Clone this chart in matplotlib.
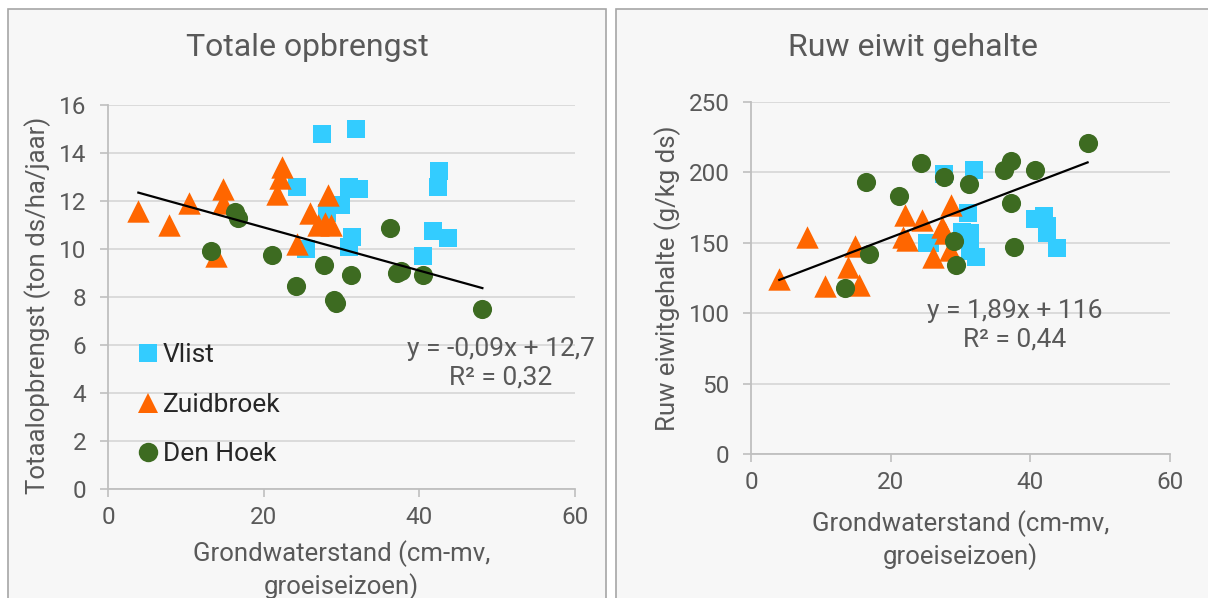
import matplotlib
matplotlib.use("Agg")
import matplotlib.pyplot as plt
import numpy as np
from matplotlib.patches import Rectangle
from matplotlib.lines import Line2D

plt.rcParams['font.family'] = ['Roboto', 'DejaVu Sans']

# ---------------- data ----------------
series_names = ["Vlist", "Zuidbroek", "Den Hoek"]

# Left chart: Totale opbrengst (ton ds/ha/jaar)
vlist_x1 = [27.5, 31.9, 24.3, 30.9, 32.2, 42.5, 42.4, 29.9, 28.1, 31.3, 30.9, 41.8, 43.7, 40.5, 25.4]
vlist_y1 = [14.8, 15.0, 12.6, 12.6, 12.5, 13.25, 12.6, 11.85, 11.5, 10.5, 10.1, 10.75, 10.45, 9.7, 10.0]
zuid_x1 = [3.9, 7.9, 10.4, 14.8, 14.8, 13.9, 22.3, 22.1, 21.7, 24.3, 28.3, 26.0, 27.0, 27.9, 28.7]
zuid_y1 = [11.6, 11.0, 11.9, 12.5, 11.9, 9.7, 13.4, 12.95, 12.3, 10.2, 12.25, 11.5, 11.0, 11.1, 11.0]
hoek_x1 = [16.3, 16.75, 13.2, 21.1, 27.7, 24.2, 29.1, 29.3, 31.2, 36.2, 37.1, 37.7, 40.5, 48.1]
hoek_y1 = [11.55, 11.28, 9.9, 9.75, 9.33, 8.46, 7.87, 7.74, 8.9, 10.86, 8.99, 9.1, 8.9, 7.49]
trend1 = (-0.09, 12.7)
eq1 = "y = -0,09x + 12,7\nR² = 0,32"

# Right chart: Ruw eiwit gehalte (g/kg ds)
vlist_x2 = [27.6, 31.9, 31.1, 31.4, 30.2, 25.6, 25.2, 31.4, 32.2, 40.7, 41.9, 42.4, 42.4, 43.8]
vlist_y2 = [199, 202, 171, 157, 158, 150, 150, 144, 140, 167, 169, 162, 157, 146]
zuid_x2 = [4.05, 8.07, 10.6, 13.9, 14.9, 15.4, 21.8, 22.4, 22.1, 24.5, 26.0, 27.3, 27.8, 28.5, 28.7]
zuid_y2 = [124, 154, 119, 133, 148, 120, 154, 152, 170, 166, 140, 161, 157, 145, 177]
hoek_x2 = [16.4, 24.4, 21.2, 16.95, 13.4, 27.6, 31.2, 36.2, 37.2, 40.6, 48.2, 37.3, 37.7, 29.1, 29.3]
hoek_y2 = [193, 207, 183, 142, 118, 196.5, 192, 202, 208, 202, 220.6, 178, 147, 151, 134]
trend2 = (1.89, 116)
eq2 = "y = 1,89x + 116\nR² = 0,44"

x_ticks = [0, 20, 40, 60]
y_ticks1 = [0, 2, 4, 6, 8, 10, 12, 14, 16]
y_ticks2 = [0, 50, 100, 150, 200, 250]
x_label = "Grondwaterstand (cm-mv,\ngroeiseizoen)"

# ---------------- style ----------------
C_VLIST = "#33CCFF"
C_ZUID = "#FF6600"
C_HOEK = "#3D6B21"
TXT = "#595959"
GRID = "#D9D9D9"
AXC = "#BFBFBF"
PANEL = "#F7F7F7"
FS_TICK = 17.5
FS_LAB = 18.5
FS_TXT = 19

W, H = 1208, 598
fig = plt.figure(figsize=(W / 100, H / 100), dpi=100)
fig.patch.set_facecolor("white")

def px_rect(x0, y0, x1, y1):
    return (x0 / W, 1 - y1 / H, (x1 - x0) / W, (y1 - y0) / H)

def fpt(x, y):
    return (x / W, 1 - y / H)

for (x0, y0, x1, y1) in [(8, 9, 606, 610), (616, 9, 1215, 610)]:
    l, b, w, h = px_rect(x0, y0, x1, y1)
    fig.patches.append(Rectangle((l, b), w, h, transform=fig.transFigure,
                                 facecolor=PANEL, edgecolor="#A6A6A6", lw=1.2, zorder=-10))

def make_axes(rect, yticks, ylim, ylabel, ylab_pos, xlab_pos, title_x, title):
    ax = fig.add_axes(px_rect(*rect))
    ax.set_facecolor("none")
    ax.set_xlim(0, 60)
    ax.set_ylim(*ylim)
    ax.set_xticks(x_ticks)
    ax.set_yticks(yticks)
    ax.yaxis.grid(True, color=GRID, lw=1.3)
    ax.set_axisbelow(True)
    for s in ["top", "right"]:
        ax.spines[s].set_visible(False)
    for s in ["left", "bottom"]:
        ax.spines[s].set_color(AXC)
        ax.spines[s].set_linewidth(1.3)
    ax.tick_params(axis="both", colors=AXC, labelcolor=TXT, labelsize=FS_TICK,
                   length=5.5, width=1.2, direction="out")
    ax.tick_params(axis="x", pad=7)
    ax.tick_params(axis="y", pad=10)
    fig.text(*fpt(*ylab_pos), ylabel, rotation=90, ha="center", va="center",
             fontsize=FS_LAB, color=TXT)
    fig.text(*fpt(*xlab_pos), x_label, ha="center", va="center",
             fontsize=FS_LAB, color=TXT, linespacing=1.3)
    fig.text(*fpt(title_x, 47), title, ha="center", va="center",
             fontsize=23, color=TXT)
    return ax

def draw(ax, groups, trend, eq, eq_pos):
    (vx, vy), (zx, zy), (hx, hy) = groups
    ax.scatter(vx, vy, marker="s", s=165, color=C_VLIST, lw=0, zorder=3)
    ax.scatter(zx, zy, marker="^", s=260, color=C_ZUID, lw=0, zorder=4)
    ax.scatter(hx, hy, marker="o", s=190, color=C_HOEK, lw=0, zorder=5)
    allx = np.concatenate([vx, zx, hx])
    tx = np.array([allx.min(), allx.max()])
    ax.plot(tx, trend[0] * tx + trend[1], color="black", lw=1.6, zorder=6)
    fig.text(*fpt(*eq_pos), eq, ha="center", va="center", fontsize=FS_TXT,
             color=TXT, linespacing=1.25, zorder=7)

ax1 = make_axes((108, 105, 575, 489), y_ticks1, (0, 16),
                "Totaalopbrengst (ton ds/ha/jaar)", (38, 305), (341.5, 570),
                307, "Totale opbrengst")
draw(ax1, [(vlist_x1, vlist_y1), (zuid_x1, zuid_y1), (hoek_x1, hoek_y1)],
     trend1, eq1, (501, 363))

ax2 = make_axes((751, 102, 1170, 454), y_ticks2, (0, 250),
                "Ruw eiwitgehalte (g/kg ds)", (668, 278), (960.5, 540),
                913, "Ruw eiwit gehalte")
draw(ax2, [(vlist_x2, vlist_y2), (zuid_x2, zuid_y2), (hoek_x2, hoek_y2)],
     trend2, eq2, (1015, 325))

handles = [
    Line2D([], [], ls="none", marker="s", ms=13, color=C_VLIST, mew=0),
    Line2D([], [], ls="none", marker="^", ms=15, color=C_ZUID, mew=0),
    Line2D([], [], ls="none", marker="o", ms=14, color=C_HOEK, mew=0),
]
leg = ax1.legend(handles, series_names, loc="upper left",
                 bbox_to_anchor=(0.0685, 0.379), frameon=False, fontsize=FS_TXT,
                 handlelength=0.6, handletextpad=0.27, labelspacing=0.96,
                 borderpad=0, borderaxespad=0)
for t in leg.get_texts():
    t.set_color("#262626")

fig.savefig("out.png", dpi=100)
